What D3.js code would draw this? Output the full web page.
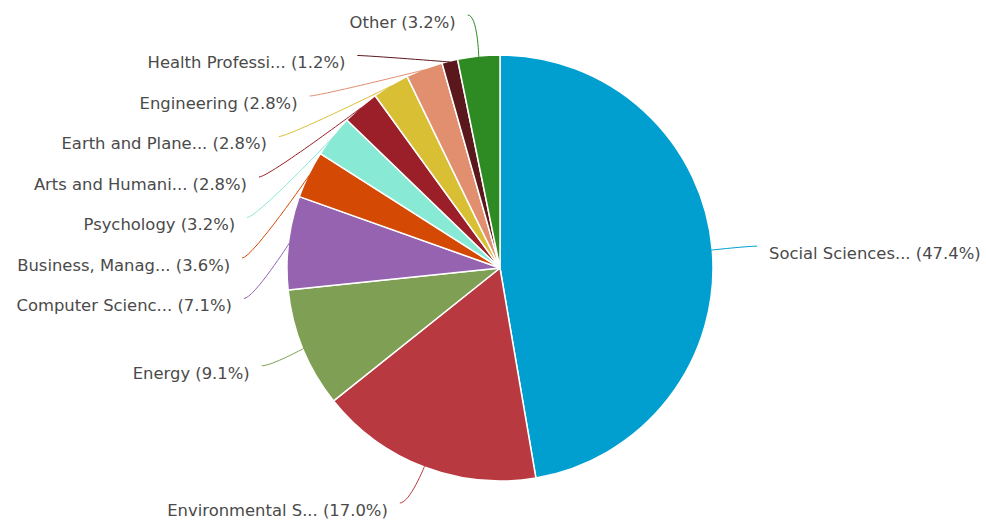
<!DOCTYPE html>
<html>
<head>
<meta charset="utf-8">
<script src="https://cdn.jsdelivr.net/npm/d3@7"></script>
<style>
  body { margin: 0; background: #fff; }
  text { font-family: "DejaVu Sans", sans-serif; font-size: 16.4px; fill: #4a4a4a; }
</style>
</head>
<body>
<svg id="chart" width="986" height="524"></svg>
<script>
const categories = [
  "Social Sciences...", "Environmental S...", "Energy", "Computer Scienc...",
  "Business, Manag...", "Psychology", "Arts and Humani...", "Earth and Plane...",
  "Engineering", "Health Professi...", "Other"
];
const shares = [47.4, 17.0, 9.1, 7.1, 3.6, 3.2, 2.8, 2.8, 2.8, 1.2, 3.2];
const palette = [
  "#009fcf", "#b83a40", "#7f9f54", "#9563b0", "#d44a05", "#88e9d5",
  "#9b1f29", "#d9bf33", "#e18f6f", "#5a181c", "#2e8a22"
];

const width = 986, height = 524;
const cx = 500, cy = 268, radius = 213, labelRadius = 258, labelRy = 255;
const gap = 40.5, topY = 15, bottomY = 503;

const data = categories.map((c, i) => ({ name: c, value: shares[i], color: palette[i] }));

const svg = d3.select("#chart");
const g = svg.append("g").attr("transform", `translate(${cx},${cy})`);

const pie = d3.pie().sort(null).value(d => d.value);
const arc = d3.arc().innerRadius(0).outerRadius(radius);
const arcs = pie(data);

g.selectAll("path.slice")
  .data(arcs)
  .join("path")
  .attr("class", "slice")
  .attr("d", arc)
  .attr("fill", d => d.data.color)
  .attr("stroke", "#fff")
  .attr("stroke-width", 1.5)
  .attr("stroke-linejoin", "round");

// label layout, roughly the way highcharts spreads them
const labels = arcs.map(d => {
  const a = (d.startAngle + d.endAngle) / 2;
  const s = Math.sin(a), c = Math.cos(a);
  return {
    d, left: s < 0,
    y: -labelRadius * c,
    touch: [(radius - 1) * s, -(radius - 1) * c]
  };
});

function spread(list) {
  list.sort((a, b) => a.y - b.y);
  list.forEach((l, i) => {
    l.y = Math.max(l.y, topY - cy);
    if (i > 0) l.y = Math.max(l.y, list[i - 1].y + gap);
  });
  for (let i = list.length - 1; i >= 0; i--) {
    const l = list[i];
    l.y = Math.min(l.y, bottomY - cy);
    if (i < list.length - 1) l.y = Math.min(l.y, list[i + 1].y - gap);
  }
}
spread(labels.filter(l => l.left));
spread(labels.filter(l => !l.left));

labels.forEach(l => {
  const t = Math.min(1, Math.abs(l.y) / labelRy);
  const dx = labelRadius * Math.sqrt(1 - t * t);
  l.x = l.left ? -dx : dx;
});

g.selectAll("path.connector")
  .data(labels)
  .join("path")
  .attr("class", "connector")
  .attr("fill", "none")
  .attr("stroke", l => l.d.data.color)
  .attr("stroke-width", 1)
  .attr("d", l => {
    const p = d3.path();
    p.moveTo(l.x, l.y);
    p.bezierCurveTo(
      l.x + (l.left ? 10 : -10), l.y,
      l.touch[0], l.touch[1],
      l.touch[0], l.touch[1]
    );
    return p.toString();
  });

g.selectAll("text.label")
  .data(labels)
  .join("text")
  .attr("class", "label")
  .attr("x", l => l.x + (l.left ? -12 : 12))
  .attr("y", l => l.y + 7)
  .attr("dy", "0.35em")
  .attr("text-anchor", l => l.left ? "end" : "start")
  .text(l => `${l.d.data.name} (${l.d.data.value.toFixed(1)}%)`);
</script>
</body>
</html>
